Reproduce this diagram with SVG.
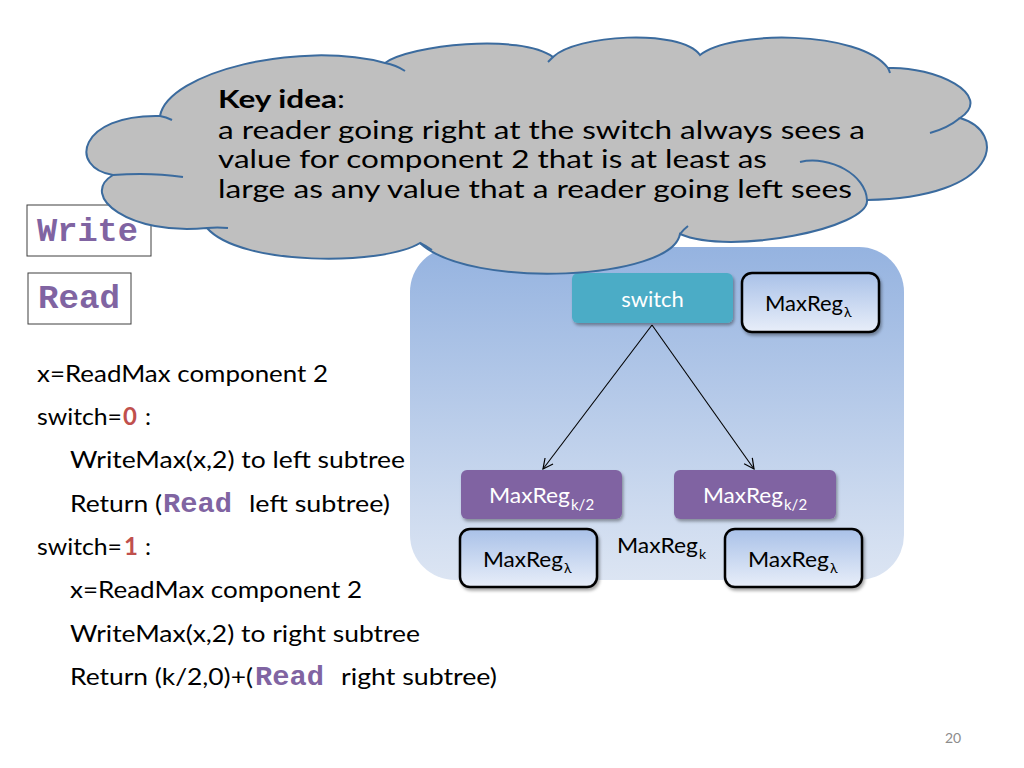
<svg xmlns="http://www.w3.org/2000/svg" width="1024" height="768" viewBox="0 0 1024 768">
<defs>
  <linearGradient id="gCont" x1="0" y1="0" x2="0" y2="1">
    <stop offset="0" stop-color="#95B3E0"/>
    <stop offset="1" stop-color="#DCE5F3"/>
  </linearGradient>
  <linearGradient id="gReg" x1="0" y1="0" x2="0" y2="1">
    <stop offset="0" stop-color="#A9C1E8"/>
    <stop offset="1" stop-color="#E8EEF9"/>
  </linearGradient>
  <filter id="sh" x="-10%" y="-10%" width="130%" height="140%">
    <feDropShadow dx="1.5" dy="2.5" stdDeviation="1.5" flood-color="#000" flood-opacity="0.35"/>
  </filter>
  <marker id="arr" viewBox="0 0 12 12" refX="11" refY="6" markerWidth="12" markerHeight="12" markerUnits="userSpaceOnUse" orient="auto">
    <path d="M1,1 L11,6 L1,11" fill="none" stroke="#000" stroke-width="1.2"/>
  </marker>
  <style>
    .t{font-family:Lato,"Liberation Sans",sans-serif;fill:#000}
    .mono{font-family:"Liberation Mono","Courier New",monospace;font-weight:bold;fill:#8064A2}
    .red{font-family:Lato,"Liberation Sans",sans-serif;font-weight:bold;fill:#C0504D}
    .wt{font-family:Lato,"Liberation Sans",sans-serif;fill:#fff}
    .box{fill:none;stroke:#3F3F3F;stroke-width:1}
    .reg{fill:url(#gReg);stroke:#000;stroke-width:2.5}
    .cloud{fill:#BFBFBF;stroke:#3B6B9E;stroke-width:2}
    .crease{fill:none;stroke:#3B6B9E;stroke-width:2}
    .conn{stroke:#000;stroke-width:1.1;fill:none}
  </style>
</defs>
<rect width="1024" height="768" fill="#fff"/>

<g id="write-box">
  <rect class="box" x="27" y="205" width="124" height="51"/>
  <text class="mono" x="37" y="241" font-size="33" textLength="101" lengthAdjust="spacingAndGlyphs">Write</text>
</g>
<g id="read-box">
  <rect class="box" x="28" y="273" width="103" height="51"/>
  <text class="mono" x="38" y="308" font-size="33" textLength="82" lengthAdjust="spacingAndGlyphs">Read</text>
</g>

<g id="code" font-size="24">
  <text class="t" x="37" y="382" textLength="291" lengthAdjust="spacingAndGlyphs">x=ReadMax component 2</text>
  <text class="t" x="37" y="425" textLength="85" lengthAdjust="spacingAndGlyphs">switch=</text>
  <text class="red" x="123" y="425">0</text>
  <text class="t" x="145" y="425">:</text>
  <text class="t" x="70" y="468" textLength="335" lengthAdjust="spacingAndGlyphs">WriteMax(x,2) to left subtree</text>
  <text class="t" x="70" y="512" textLength="92" lengthAdjust="spacingAndGlyphs">Return (</text>
  <text class="mono" x="163" y="512" font-size="27" textLength="69" lengthAdjust="spacingAndGlyphs">Read</text>
  <text class="t" x="249" y="512" textLength="141" lengthAdjust="spacingAndGlyphs">left subtree)</text>
  <text class="t" x="37" y="555" textLength="85" lengthAdjust="spacingAndGlyphs">switch=</text>
  <text class="red" x="124" y="555">1</text>
  <text class="t" x="145" y="555">:</text>
  <text class="t" x="70" y="598" textLength="292" lengthAdjust="spacingAndGlyphs">x=ReadMax component 2</text>
  <text class="t" x="70" y="642" textLength="350" lengthAdjust="spacingAndGlyphs">WriteMax(x,2) to right subtree</text>
  <text class="t" x="70" y="685" textLength="183" lengthAdjust="spacingAndGlyphs">Return (k/2,0)+(</text>
  <text class="mono" x="255" y="685" font-size="27" textLength="69" lengthAdjust="spacingAndGlyphs">Read</text>
  <text class="t" x="341" y="685" textLength="156" lengthAdjust="spacingAndGlyphs">right subtree)</text>
</g>

<g id="maxregk-container">
  <rect x="410" y="247" width="494" height="333" rx="45" fill="url(#gCont)"/>
  <text class="t" x="617" y="553" font-size="22" textLength="81" lengthAdjust="spacingAndGlyphs">MaxReg</text>
  <text class="t" x="699" y="559" font-size="14">k</text>
</g>

<g id="connectors">
  <line class="conn" x1="652" y1="325" x2="543" y2="469" marker-end="url(#arr)"/>
  <line class="conn" x1="652" y1="325" x2="754" y2="469" marker-end="url(#arr)"/>
</g>

<g id="switch">
  <rect x="572" y="273" width="161" height="50" rx="6" fill="#4BACC6" filter="url(#sh)"/>
  <text class="wt" x="652.5" y="307" font-size="22" text-anchor="middle">switch</text>
</g>
<g id="maxreg-lambda-top">
  <rect class="reg" x="742" y="273" width="137" height="59" rx="10" filter="url(#sh)"/>
  <text class="t" x="765" y="311" font-size="22" textLength="78" lengthAdjust="spacingAndGlyphs">MaxReg</text>
  <text class="t" x="844" y="317" font-size="14">λ</text>
</g>
<g id="maxreg-k2-left">
  <rect x="461" y="470" width="161" height="49" rx="6" fill="#8064A2" filter="url(#sh)"/>
  <text class="wt" x="489" y="503" font-size="22" textLength="81" lengthAdjust="spacingAndGlyphs">MaxReg</text>
  <text class="wt" x="571" y="510" font-size="15">k/2</text>
</g>
<g id="maxreg-k2-right">
  <rect x="674" y="470" width="162" height="49" rx="6" fill="#8064A2" filter="url(#sh)"/>
  <text class="wt" x="703" y="503" font-size="22" textLength="80" lengthAdjust="spacingAndGlyphs">MaxReg</text>
  <text class="wt" x="784" y="510" font-size="15">k/2</text>
</g>
<g id="maxreg-lambda-left">
  <rect class="reg" x="460" y="529" width="137" height="58" rx="10" filter="url(#sh)"/>
  <text class="t" x="483" y="567" font-size="22" textLength="80" lengthAdjust="spacingAndGlyphs">MaxReg</text>
  <text class="t" x="564" y="573" font-size="14">λ</text>
</g>
<g id="maxreg-lambda-right">
  <rect class="reg" x="725" y="529" width="137" height="58" rx="10" filter="url(#sh)"/>
  <text class="t" x="748" y="567" font-size="22" textLength="81" lengthAdjust="spacingAndGlyphs">MaxReg</text>
  <text class="t" x="830" y="573" font-size="14">λ</text>
</g>

<g id="cloud">
  <path class="cloud" d="M160,116 C168,72 300,40 385,63 C410,45 520,33 553,57 C575,35 680,28 700,55 C730,30 860,30 888,68 C935,66 995,95 960,118 C1008,132 1000,198 867,200 C870,228 730,256 680,234 C672,280 470,290 420,243 C382,266 240,266 207,228 C130,236 78,196 113,175 C68,168 78,114 160,116 Z"/>
  <path class="crease" d="M385,63 Q396,65 405,71"/>
  <path class="crease" d="M553,57 Q551,59 548,62"/>
  <path class="crease" d="M888,68 Q889,70 890,73"/>
  <path class="crease" d="M960,118 Q948,128 930,133"/>
  <path class="crease" d="M800,162 C830,155 866,175 867,200"/>
  <path class="crease" d="M680,234 Q684,229 688,226"/>
  <path class="crease" d="M420,243 Q426,246 432,250"/>
  <path class="crease" d="M207,228 Q217,227 228,228"/>
  <path class="crease" d="M113,175 Q150,172 183,177"/>
  <path class="crease" d="M160,116 Q166,117 172,120"/>
  <text class="t" font-size="24.5" x="218" y="108" textLength="127" lengthAdjust="spacingAndGlyphs"><tspan font-weight="bold">Key idea</tspan>:</text>
  <text class="t" font-size="24.5" x="218" y="138.5" textLength="647" lengthAdjust="spacingAndGlyphs">a reader going right at the switch always sees a</text>
  <text class="t" font-size="24.5" x="218" y="168" textLength="549" lengthAdjust="spacingAndGlyphs">value for component 2 that is at least as</text>
  <text class="t" font-size="24.5" x="218" y="197.5" textLength="634" lengthAdjust="spacingAndGlyphs">large as any value that a reader going left sees</text>
</g>

<text x="945" y="743" font-family="Lato,'Liberation Sans',sans-serif" font-size="14" fill="#8C8C8C">20</text>
</svg>
